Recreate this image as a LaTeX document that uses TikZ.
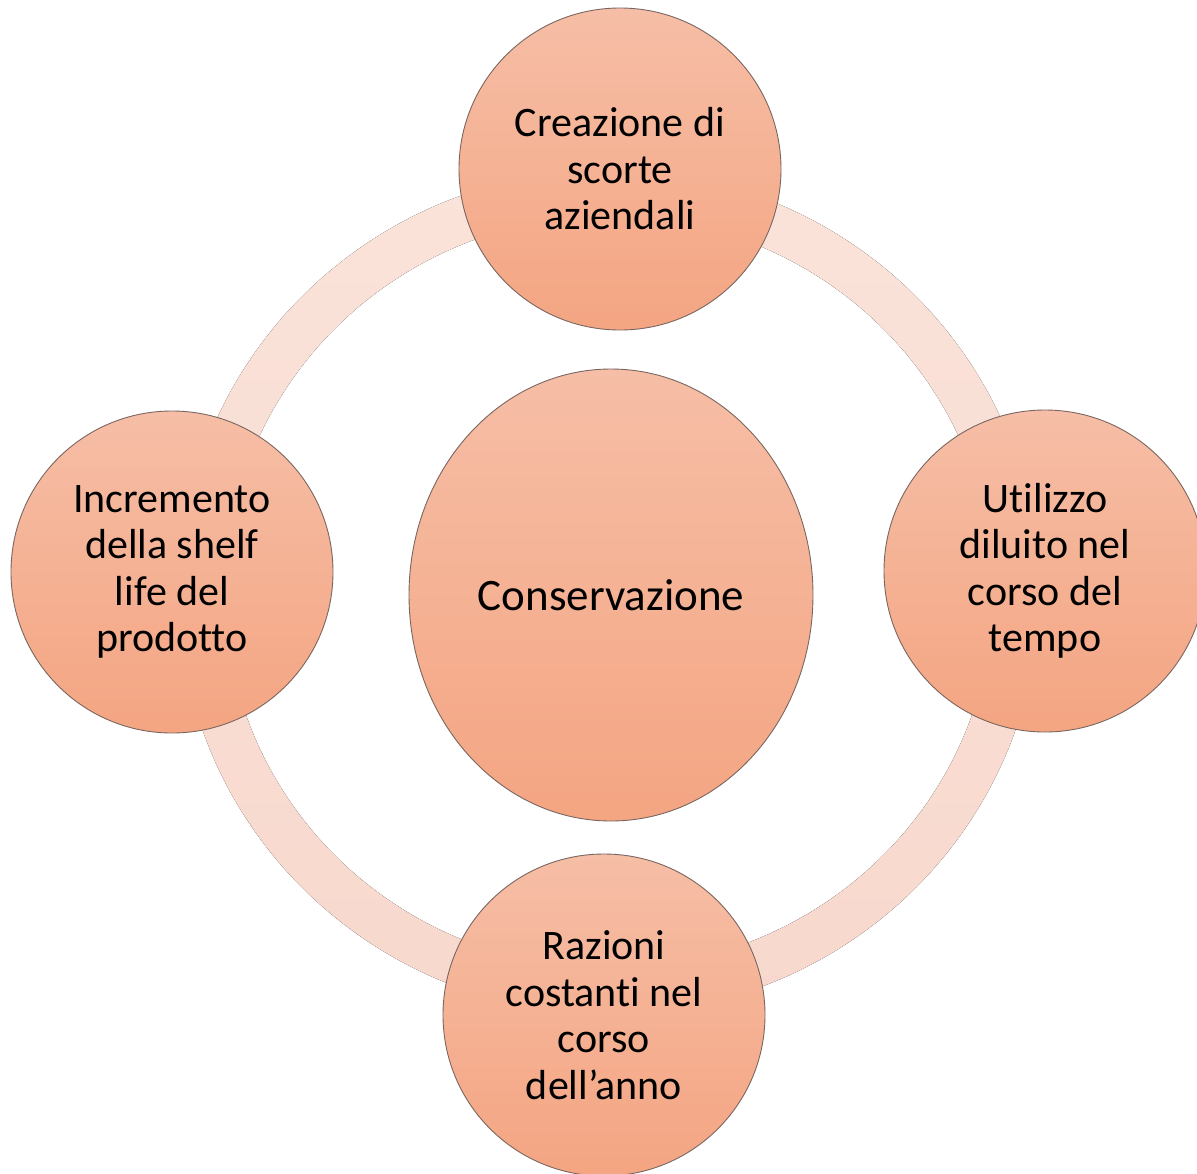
\documentclass[tikz,border=0pt]{standalone}
\usepackage{fontspec}
\setmainfont{Carlito}[Ligatures=NoCommon]
\usetikzlibrary{shapes.geometric}
\definecolor{circTop}{HTML}{F6BEA6}
\definecolor{circBot}{HTML}{F4A582}
\definecolor{ringTop}{HTML}{FAE3DA}
\definecolor{ringBot}{HTML}{F8D8CD}
\definecolor{edgeCol}{HTML}{7A6660}
\tikzset{
  bubble/.style={circle, draw=edgeCol, line width=0.9pt, top color=circTop, bottom color=circBot,
    minimum size=322pt, inner sep=0pt, align=center, text=black,
    font=\fontsize{42}{46.5}\selectfont},
  hub/.style={ellipse, draw=edgeCol, line width=0.9pt, top color=circTop, bottom color=circBot,
    minimum width=404pt, minimum height=452pt, inner sep=0pt, align=center, text=black,
    font=\fontsize{45}{50}\selectfont},
  ringfill/.style={even odd rule, top color=ringTop, bottom color=ringBot}
}
\begin{document}
\begin{tikzpicture}[x=1pt, y=-1pt]
\useasboundingbox (0,0) rectangle (1197,1173);
\clip (0,0) rectangle (1197,1173);
% ring
\fill[ringfill] (609,592) ellipse [x radius=430, y radius=422]
                (609,592) ellipse [x radius=384, y radius=376];
% centre
\node[hub] (hub) at (611,595) {Conservazione};
% satellites
\node[bubble] (top) at (620,169) {Creazione di\\scorte\\aziendali};
\node[bubble] (right) at (1045,571) {Utilizzo\\diluito nel\\corso del\\tempo};
\node[bubble] (bottom) at (604,1015) {Razioni\\costanti nel\\corso\\dell’anno};
\node[bubble] (left) at (172,572) {Incremento\\della shelf\\life del\\prodotto};
\end{tikzpicture}
\end{document}
